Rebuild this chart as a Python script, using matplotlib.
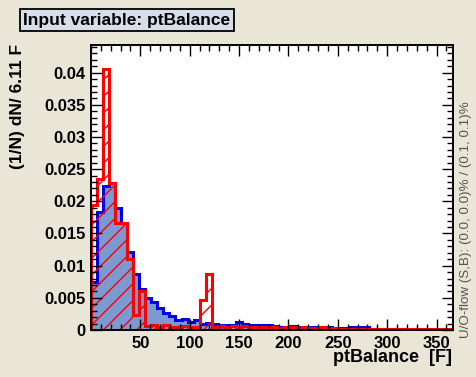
import numpy as np
import matplotlib
matplotlib.use("Agg")
import matplotlib.pyplot as plt
from matplotlib.ticker import MultipleLocator

# ---- histogram contents: (1/N) dN/dx per bin ----
BIN_WIDTH = 6.11
N_BINS = 60

signal = [
    0.0075, 0.0183, 0.0224, 0.0228, 0.0189, 0.0166, 0.0121, 0.0087, 0.0063, 0.0050,
    0.0044, 0.0034, 0.0026, 0.0021, 0.0016, 0.0017, 0.0013, 0.0015, 0.0009, 0.0011,
    0.0009, 0.0008, 0.0008, 0.0008, 0.0012, 0.0009, 0.0008, 0.0008, 0.0007, 0.0008,
    0.0006, 0.0004, 0.0005, 0.0006, 0.0005, 0.0004, 0.0005, 0.0004, 0.0004, 0.0005,
    0.0003, 0.0003, 0.0003, 0.0004, 0.0004, 0.0004, 0.0002, 0.0002, 0.0001, 0.0001,
    0.0001, 0.0001, 0.0000, 0.0001, 0.0000, 0.0000, 0.0000, 0.0000, 0.0000, 0.0001,
]

background = [
    0.0195, 0.0235, 0.0405, 0.0229, 0.0166, 0.0166, 0.0110, 0.0024, 0.0060, 0.0006,
    0.0007, 0.0005, 0.0007, 0.0005, 0.0005, 0.0006, 0.0004, 0.0005, 0.0047, 0.0087,
    0.0005, 0.0006, 0.0005, 0.0006, 0.0005, 0.0006, 0.0005, 0.0005, 0.0004, 0.0005,
    0.0004, 0.0003, 0.0004, 0.0004, 0.0003, 0.0004, 0.0003, 0.0003, 0.0004, 0.0002,
    0.0003, 0.0002, 0.0002, 0.0002, 0.0002, 0.0002, 0.0002, 0.0002, 0.0002, 0.0001,
    0.0002, 0.0001, 0.0002, 0.0001, 0.0001, 0.0001, 0.0001, 0.0001, 0.0001, 0.0002,
]

x_ticks = [50, 100, 150, 200, 250, 300, 350]
y_ticks = [0, 0.005, 0.01, 0.015, 0.02, 0.025, 0.03, 0.035, 0.04]
y_tick_labels = ["0", "0.005", "0.01", "0.015", "0.02", "0.025", "0.03", "0.035", "0.04"]

# ---- style ----
CANVAS = "#e9e6d7"
SIG_FILL = "#7d99d1"
SIG_LINE = "#0000ee"
BKG_LINE = "#ff0000"

plt.rcParams["font.family"] = ["Liberation Sans", "DejaVu Sans"]
plt.rcParams["font.weight"] = "bold"
plt.rcParams["hatch.linewidth"] = 1.0

edges = np.arange(N_BINS + 1) * BIN_WIDTH

fig = plt.figure(figsize=(4.76, 3.77), dpi=100, facecolor=CANVAS)
ax = fig.add_axes([91 / 476, 1 - 330 / 377, (453 - 91) / 476, (330 - 45) / 377])
ax.set_facecolor("white")

# signal: solid fill with blue outline
ax.stairs(signal, edges, baseline=0, fill=True, color=SIG_FILL, lw=0)
ax.stairs(signal, edges, baseline=0, color=SIG_LINE, lw=2.2)

# background: red hatch with red outline
ax.stairs(background, edges, baseline=0, fill=True, facecolor="none",
          edgecolor=BKG_LINE, hatch="//", lw=0)
ax.stairs(background, edges, baseline=0, color=BKG_LINE, lw=2.2)

ax.set_xlim(0, N_BINS * BIN_WIDTH)
ax.set_ylim(0, 0.0443)

ax.set_xticks(x_ticks)
ax.set_xticklabels([str(t) for t in x_ticks])
ax.xaxis.set_minor_locator(MultipleLocator(10))
ax.set_yticks(y_ticks)
ax.set_yticklabels(y_tick_labels)
ax.yaxis.set_minor_locator(MultipleLocator(0.001))

ax.tick_params(which="both", direction="in", top=True, right=True,
               labelsize=12, width=1, color="black")
ax.tick_params(which="major", length=8, pad=4)
ax.tick_params(which="minor", length=4)
for s in ax.spines.values():
    s.set_linewidth(1.4)
    s.set_zorder(5)

# axis titles
fig.text(452 / 476, 1 - 358 / 377, "ptBalance  [F]", ha="right", va="center",
         fontsize=13, fontweight="bold")
fig.text(18 / 476, 1 - 44 / 377, "(1/N) dN/ 6.11 F", ha="center", va="top",
         rotation=90, fontsize=12.5, fontweight="bold")

# under/overflow note
fig.text(466 / 476, 1 - 338 / 377, "U/O-flow (S,B): (0.0, 0.0)% / (0.1, 0.1)%",
         ha="center", va="bottom", rotation=90, fontsize=9.6,
         fontweight="normal", color="#555555")

# title box
fig.text(127 / 476, 1 - 20 / 377, "Input variable: ptBalance", ha="center",
         va="center", fontsize=12.5, fontweight="bold",
         bbox=dict(boxstyle="square,pad=0.22", facecolor="#d7dee9",
                   edgecolor="black", linewidth=1.3))

fig.savefig("out.png", dpi=100, facecolor=CANVAS)
